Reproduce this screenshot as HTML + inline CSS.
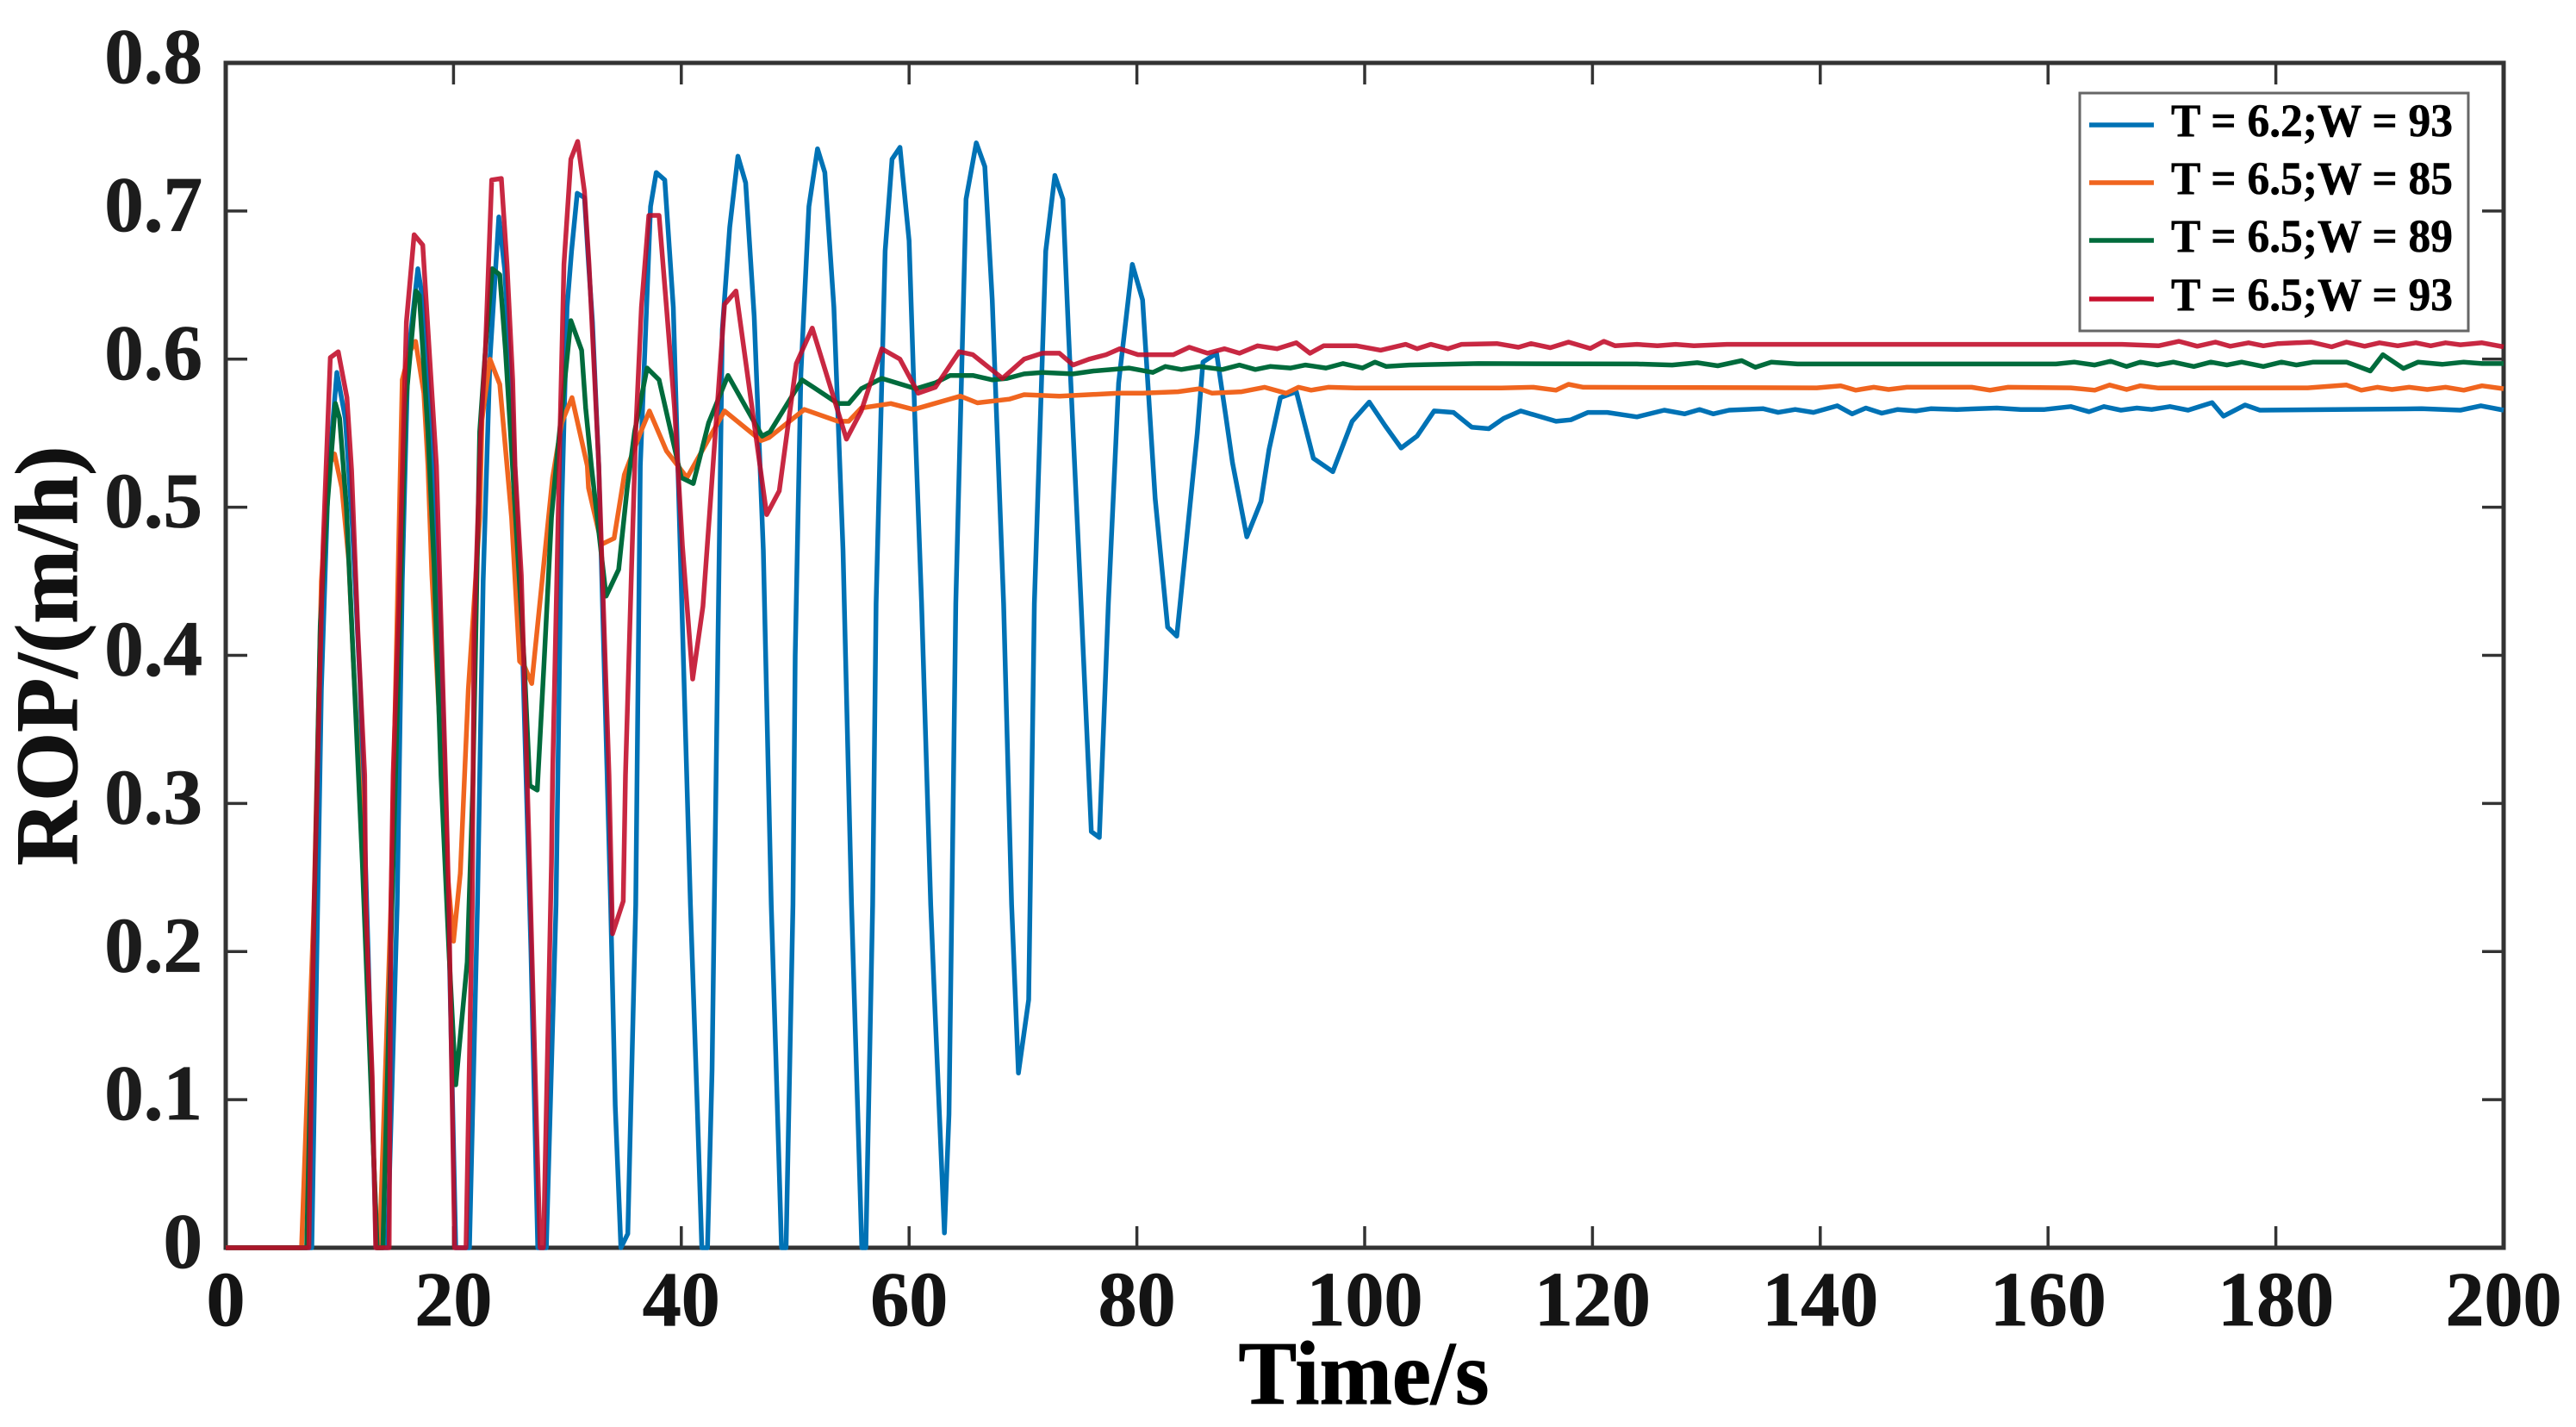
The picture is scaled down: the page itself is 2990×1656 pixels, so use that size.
<!DOCTYPE html>
<html lang="en">
<head>
<meta charset="utf-8">
<title>ROP versus time</title>
<style>
html,body{margin:0;padding:0;background:#fff;}
svg{display:block;}
text{font-family:"Liberation Serif",serif;font-weight:bold;}
</style>
</head>
<body>
<svg id="chart" xmlns="http://www.w3.org/2000/svg" width="2990" height="1656" viewBox="0 0 2990 1656">
  <rect x="0" y="0" width="2990" height="1656" fill="#ffffff"/>
  <g id="ticks"></g>
  <rect x="262" y="73" width="2644" height="1375" fill="none" stroke="#333333" stroke-width="5"/>
  <g id="series"></g>
  <g id="labels"></g>
  <text x="1583" y="1629" text-anchor="middle" font-size="105" textLength="291" lengthAdjust="spacingAndGlyphs" fill="#000" stroke="#000" stroke-width="1">Time/s</text>
  <text transform="translate(89,761) rotate(-90)" text-anchor="middle" font-size="103" textLength="487" lengthAdjust="spacingAndGlyphs" fill="#111" stroke="#111" stroke-width="1">ROP/(m/h)</text>
  <g>
    <rect x="2414" y="108" width="451" height="276" fill="#ffffff" stroke="#666666" stroke-width="3"/>
    <line x1="2425" x2="2500" y1="145" y2="145" stroke="#0072b5" stroke-width="5.5"/>
    <text x="2520" y="158" font-size="54" textLength="327" lengthAdjust="spacingAndGlyphs" fill="#000" stroke="#000" stroke-width="0.6">T = 6.2;W = 93</text>
    <line x1="2425" x2="2500" y1="212" y2="212" stroke="#f0651f" stroke-width="5.5"/>
    <text x="2520" y="225" font-size="54" textLength="327" lengthAdjust="spacingAndGlyphs" fill="#000" stroke="#000" stroke-width="0.6">T = 6.5;W = 85</text>
    <line x1="2425" x2="2500" y1="279" y2="279" stroke="#006b3c" stroke-width="5.5"/>
    <text x="2520" y="292" font-size="54" textLength="327" lengthAdjust="spacingAndGlyphs" fill="#000" stroke="#000" stroke-width="0.6">T = 6.5;W = 89</text>
    <line x1="2425" x2="2500" y1="347" y2="347" stroke="#c8102e" stroke-width="5.5"/>
    <text x="2520" y="360" font-size="54" textLength="327" lengthAdjust="spacingAndGlyphs" fill="#000" stroke="#000" stroke-width="0.6">T = 6.5;W = 93</text>
  </g>
</svg>
<script>
const xTickValues = [0,20,40,60,80,100,120,140,160,180,200];
const yTickValues = [0,0.1,0.2,0.3,0.4,0.5,0.6,0.7,0.8];
const yTickLabels = ["0","0.1","0.2","0.3","0.4","0.5","0.6","0.7","0.8"];

/* [time in s, ROP in m/h] */
const blueSeries = [[0,0],[7.56,0],[8.4,.377],[9,.52],[9.76,.591],[10.5,.56],[11.1,.49],[11.8,.38],[12.5,.2],[13.2,0],[14.2,0],[15.05,.2315],[15.5,.45],[16,.6],[16.87,.661],[17.3,.64],[18,.56],[18.7,.45],[19.4,.28],[20.2,0],[21.4,0],[22.1,.2315],[22.6,.45],[23.2,.6],[23.98,.696],[24.5,.66],[25.2,.56],[26,.42],[26.8,.2],[27.4,0],[28.15,0],[29,.2315],[29.5,.5],[29.97,.635],[30.36,.673],[30.86,.712],[31.5,.709],[31.86,.664],[32.2,.625],[32.75,.528],[33.8,.2315],[34.2,.096],[34.7,0],[35.3,.0095],[36,.2315],[36.4,.528],[36.9,.625],[37.3,.703],[37.8,.726],[38.55,.721],[39.3,.635],[39.7,.528],[40.8,.2315],[41.4,.096],[41.8,0],[42.3,0],[42.7,.12],[42.9,.2315],[43.6,.62],[44.25,.689],[44.97,.737],[45.65,.719],[46.4,.629],[47.2,.471],[47.9,.2315],[48.3,.13],[48.8,0],[49.2,0],[49.8,.2315],[50,.4],[50.5,.59],[51.2,.703],[51.96,.742],[52.6,.726],[53.4,.635],[54.2,.471],[54.95,.2315],[55.85,0],[56.2,0],[56.8,.2315],[57.1,.435],[57.9,.673],[58.5,.735],[59.2,.743],[60,.68],[60.5,.562],[61.1,.435],[61.9,.2315],[62.2,.174],[63.1,.01],[63.5,.09],[63.75,.2315],[64.1,.435],[65,.708],[65.9,.746],[66.65,.73],[67.3,.64],[68.3,.435],[69,.2315],[69.6,.118],[70.5,.1675],[71,.435],[72,.673],[72.8,.724],[73.5,.708],[74,.617],[75.1,.435],[76,.281],[76.7,.277],[77.5,.435],[78.4,.584],[79.6,.664],[80.5,.64],[81.6,.506],[82.7,.419],[83.5,.413],[83.8,.435],[85.3,.55],[85.8,.598],[87,.604],[87.8,.562],[88.4,.53],[89.65,.48],[90.9,.504],[91.6,.539],[92.6,.574],[94,.578],[95.5,.533],[97.2,.524],[98.9,.558],[100.4,.571],[101.8,.555],[103.2,.54],[104.6,.548],[106.1,.565],[107.8,.564],[109.4,.554],[110.9,.553],[112.2,.56],[113.7,.565],[116.8,.558],[118.1,.559],[119.6,.564],[121.3,.564],[123.9,.561],[126.3,.5655],[128.1,.563],[129.4,.566],[130.6,.563],[132,.5655],[135,.5665],[136.3,.564],[137.8,.566],[139.4,.564],[141.5,.5685],[142.8,.563],[144,.567],[145.4,.5635],[146.8,.566],[148.4,.565],[149.7,.5665],[152,.566],[155.5,.567],[157.6,.566],[159.7,.566],[162,.568],[163.6,.5645],[164.9,.568],[166.4,.5655],[167.8,.567],[169.1,.566],[170.7,.568],[172.3,.5655],[174.4,.5706],[175.4,.5615],[177.3,.569],[178.6,.5655],[192.8,.5665],[196.2,.5655],[198,.5685],[200,.5655]];

const orangeSeries = [[0,0],[6.66,0],[7.75,.2315],[8.4,.45],[9.05,.528],[9.55,.536],[10.2,.513],[10.8,.464],[11.2,.396],[12.2,.25],[12.9,.08],[13.3,0],[13.5,0],[14.5,.23],[15.5,.586],[16.1,.604],[16.67,.612],[17.4,.577],[17.75,.528],[18.1,.454],[18.75,.358],[19.5,.25],[20,.207],[20.6,.253],[21.3,.377],[22.3,.493],[22.5,.559],[23.2,.6],[24.06,.583],[24.7,.528],[25.1,.493],[25.8,.396],[26.2,.393],[26.87,.381],[27.96,.464],[28.7,.52],[29.5,.557],[30.4,.574],[31.75,.528],[31.85,.513],[33,.475],[34.1,.479],[35,.522],[36.4,.55],[37.2,.565],[38.7,.538],[40.5,.52],[43.8,.565],[47,.545],[47.7,.547],[50.8,.566],[53.75,.558],[54.7,.558],[55.8,.567],[58.4,.57],[60.4,.566],[64.5,.575],[66,.5705],[68.8,.573],[70.1,.576],[73.2,.575],[78.4,.577],[80.5,.577],[83.6,.578],[85.5,.58],[86.6,.577],[89.2,.578],[91.2,.581],[93.1,.577],[94.2,.581],[95.3,.579],[96.8,.581],[99.2,.5805],[112,.5805],[114.8,.581],[116.8,.579],[117.9,.583],[119.2,.581],[139.7,.5806],[141.8,.582],[143.1,.579],[144.7,.581],[146,.5795],[147.6,.581],[153.3,.581],[154.9,.579],[156.5,.581],[162,.5806],[164.1,.579],[165.4,.5825],[166.9,.5795],[168.1,.582],[169.7,.5805],[182.8,.5806],[186.2,.5825],[187.5,.579],[188.9,.581],[190.2,.5795],[191.7,.581],[193.3,.5795],[194.9,.581],[196.5,.579],[198.1,.582],[200,.58]];

const greenSeries = [[0,0],[7.1,0],[7.7,.2],[8.3,.42],[8.9,.5],[9.63,.57],[10,.56],[10.6,.5],[11.3,.38],[12,.26],[12.8,.1],[13.3,0],[13.8,0],[14.6,.2315],[15.2,.4],[15.8,.57],[16.7,.646],[17,.643],[17.75,.551],[18.3,.46],[18.9,.319],[19.6,.2],[20.2,.11],[21.2,.193],[21.7,.313],[22.3,.551],[22.8,.606],[23.4,.661],[24.06,.657],[24.56,.606],[25,.551],[26.2,.396],[26.7,.312],[27.35,.309],[27.96,.396],[28.6,.493],[29.1,.535],[30.3,.626],[31.25,.606],[31.6,.567],[32.1,.528],[33.4,.44],[34.5,.458],[35.25,.513],[35.9,.551],[37,.594],[38.05,.586],[40,.52],[41.05,.516],[42.4,.557],[44.1,.589],[47.1,.548],[47.8,.551],[50.6,.586],[51.6,.581],[53.75,.57],[54.7,.57],[55.8,.58],[57.6,.587],[60.6,.58],[62.3,.584],[63.6,.589],[65.6,.589],[67.3,.586],[68.6,.587],[70.1,.59],[71.7,.591],[74.4,.59],[76.2,.592],[79.3,.594],[81.4,.591],[82.5,.595],[83.9,.593],[85.5,.595],[87.5,.593],[89,.596],[90.4,.593],[91.7,.595],[93.5,.594],[94.8,.596],[96.6,.594],[98.1,.597],[99.8,.594],[100.9,.598],[101.9,.595],[103.9,.596],[110,.597],[123.9,.5967],[127,.596],[129.2,.5976],[131,.5955],[133.1,.599],[134.3,.5945],[135.7,.598],[138,.5967],[160.7,.5967],[162.3,.598],[164.1,.596],[165.5,.5986],[166.9,.595],[168.1,.598],[169.6,.596],[171,.598],[172.8,.595],[174.3,.598],[175.7,.596],[177,.598],[178.9,.595],[180.5,.598],[181.8,.596],[183.3,.598],[186.2,.598],[188.3,.592],[189.4,.603],[191.2,.5937],[192.5,.598],[194.6,.5965],[196.5,.598],[198.1,.597],[200,.597]];

const redSeries = [[0,0],[7.3,0],[7.75,.23],[8.05,.319],[8.55,.474],[8.93,.551],[9.18,.601],[9.88,.605],[10.64,.574],[11.05,.525],[11.6,.416],[12.2,.319],[12.3,.2315],[12.87,.115],[13.17,0],[14.35,0],[14.5,.23],[14.7,.319],[15.2,.435],[15.6,.551],[15.86,.625],[16.54,.684],[17.3,.677],[17.87,.606],[18.5,.528],[19.3,.319],[19.6,.23],[20.1,0],[21.1,0],[21.64,.23],[21.8,.416],[22.4,.551],[22.8,.606],[23.35,.721],[24.2,.722],[24.7,.664],[25.2,.586],[25.4,.528],[25.95,.454],[26.6,.28],[27.3,.08],[27.6,0],[27.9,0],[28.6,.26],[28.7,.319],[29.35,.551],[29.7,.664],[30.3,.735],[30.9,.747],[31.5,.713],[31.9,.664],[32.4,.586],[32.75,.528],[33.65,.319],[33.96,.212],[34.9,.234],[35.1,.319],[35.6,.45],[36,.551],[36.5,.635],[37.15,.697],[38.05,.697],[38.7,.635],[39.4,.567],[40.1,.474],[41,.384],[41.9,.433],[43.8,.637],[44.8,.646],[47.5,.495],[48.6,.511],[50.1,.597],[51.5,.621],[54.5,.546],[55.8,.565],[57.6,.607],[59.2,.6],[60.8,.577],[62.3,.581],[64.4,.605],[65.6,.603],[68.2,.587],[70.1,.6],[71.7,.604],[73.2,.604],[74.4,.596],[75.8,.6],[77.3,.603],[78.5,.607],[80.1,.603],[83.2,.603],[84.6,.608],[86.2,.604],[87.7,.607],[89,.604],[90.6,.609],[92.3,.607],[94,.611],[95.2,.604],[96.4,.609],[99.3,.609],[101.4,.606],[103.6,.61],[104.6,.607],[105.8,.61],[107.3,.607],[108.5,.61],[111.6,.6105],[113.5,.608],[114.6,.6105],[116.3,.6077],[117.9,.6115],[119.8,.6072],[121,.612],[122,.609],[123.9,.61],[125.7,.609],[127.3,.61],[128.9,.609],[131.8,.61],[140.7,.61],[166.5,.61],[169.7,.609],[171.5,.612],[173.1,.6087],[174.7,.6115],[176,.6087],[177.6,.611],[178.9,.609],[180.2,.6105],[183.1,.6115],[184.9,.6083],[186.2,.6115],[187.8,.6087],[189.1,.611],[190.7,.609],[192.3,.611],[193.6,.609],[194.9,.611],[196.2,.6097],[198.1,.611],[200,.6083]];

const plotLeft = 262, plotRight = 2906, plotTop = 73, plotBottom = 1448;
const xMax = 200, yMax = 0.8;
function xScale(t){ return plotLeft + (t / xMax) * (plotRight - plotLeft); }
function yScale(v){ return plotBottom - (v / yMax) * (plotBottom - plotTop); }

const svgNS = "http://www.w3.org/2000/svg";
const tickGroup = document.getElementById("ticks");
const labelGroup = document.getElementById("labels");
const seriesGroup = document.getElementById("series");
const tickLen = 25;

function addTick(x1, y1, x2, y2){
  const el = document.createElementNS(svgNS, "line");
  
  
  el.setAttribute("x1", x1);
  el.setAttribute("y1", y1);
  el.setAttribute("x2", x2);
  el.setAttribute("y2", y2);
  el.setAttribute("stroke", "#333333");
  el.setAttribute("stroke-width", "3.5");
  tickGroup.appendChild(el);
}

xTickValues.forEach(function(v){
  const x = xScale(v);
  if (v !== 0 && v !== xMax) {
    addTick(x, plotBottom, x, plotBottom - tickLen);
    addTick(x, plotTop, x, plotTop + tickLen);
  }
  const el = document.createElementNS(svgNS, "text");
  
  
  el.setAttribute("x", x);
  el.setAttribute("y", 1538);
  el.setAttribute("text-anchor", "middle");
  el.setAttribute("font-size", "90");
  el.setAttribute("fill", "#141414");
  el.setAttribute("stroke", "#141414");
  el.setAttribute("stroke-width", "0.8");
  el.textContent = String(v);
  labelGroup.appendChild(el);
});

yTickValues.forEach(function(v, i){
  const y = yScale(v);
  if (v !== 0 && v !== yMax) {
    addTick(plotLeft, y, plotLeft + tickLen, y);
    addTick(plotRight, y, plotRight - tickLen, y);
  }
  const el = document.createElementNS(svgNS, "text");
  
  
  el.setAttribute("x", 235);
  el.setAttribute("y", y + 23);
  el.setAttribute("text-anchor", "end");
  el.setAttribute("font-size", "91");
  el.setAttribute("fill", "#1c1c1c");
  el.setAttribute("stroke", "#1c1c1c");
  el.setAttribute("stroke-width", "0.8");
  el.textContent = yTickLabels[i];
  labelGroup.appendChild(el);
});

function drawSeries(points, color, name, width, opacity){
  const el = document.createElementNS(svgNS, "polyline");
  
  
  el.setAttribute("points", points.map(function(p){
    return xScale(p[0]).toFixed(1) + "," + yScale(p[1]).toFixed(1);
  }).join(" "));
  el.setAttribute("fill", "none");
  el.setAttribute("stroke", color);
  el.setAttribute("stroke-width", width);
  el.setAttribute("stroke-opacity", opacity);
  el.setAttribute("stroke-linejoin", "round");
  seriesGroup.appendChild(el);
}

drawSeries(blueSeries, "#0072b5", "series-t62-w93", 5.5, 1);
drawSeries(orangeSeries, "#f0651f", "series-t65-w85", 5.5, 1);
drawSeries(greenSeries, "#006b3c", "series-t65-w89", 5.5, 1);
drawSeries(redSeries, "#c00a28", "series-t65-w93", 5.5, 0.88);
</script>
</body>
</html>
